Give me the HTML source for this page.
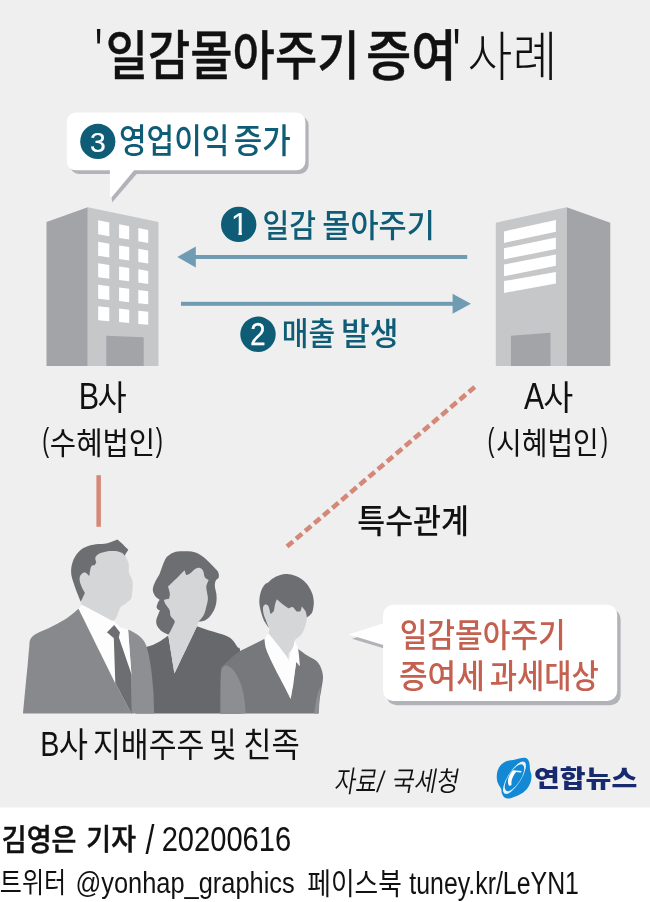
<!DOCTYPE html>
<html lang="ko"><head><meta charset="utf-8"><title>'일감몰아주기 증여' 사례</title>
<style>
html,body{margin:0;padding:0;background:#fff}
svg{display:block;will-change:transform}
text{font-family:"Liberation Sans","Noto Sans CJK KR",sans-serif}
</style></head>
<body>
<svg width="650" height="902" viewBox="0 0 650 902">
<defs><clipPath id="k1"><rect x="225" y="205" width="30" height="26.9"/><rect x="238.4" y="205" width="3.5" height="40"/></clipPath></defs>
<rect x="0" y="0" width="650" height="807.5" fill="#efefef"/>
<g fill="#b1b3b8" transform="translate(3.2 3.4)"><path d="M75.8,112.6 H296.4 a9,9 0 0 1 9,9 V161.5 a9,9 0 0 1 -9,9 H75.8 a9,9 0 0 1 -9,-9 V121.6 a9,9 0 0 1 9,-9 Z"/></g><polygon fill="#b1b3b8" points="111.6,196.8 112.1,202.6 136.6,174 133.7,170"/>
<g fill="#fff"><path d="M75.8,112.6 H296.4 a9,9 0 0 1 9,9 V161.3 a9,9 0 0 1 -9,9 H75.8 a9,9 0 0 1 -9,-9 V121.6 a9,9 0 0 1 9,-9 Z"/><polygon points="109.9,165 109.9,196.2 111.5,197.4 133.9,170.5 133.9,165"/></g>
<g fill="#b1b3b8" transform="translate(3.4 4.3)"><path d="M393.1,604.8 H607.2 a10,10 0 0 1 10,10 V691 a10,10 0 0 1 -10,10 H393.1 a10,10 0 0 1 -10,-10 V614.8 a10,10 0 0 1 10,-10 Z"/><polygon points="348.6,634.4 385,622.8 385,645.5"/></g>
<g fill="#fff"><path d="M393.1,604.8 H607.2 a10,10 0 0 1 10,10 V691 a10,10 0 0 1 -10,10 H393.1 a10,10 0 0 1 -10,-10 V614.8 a10,10 0 0 1 10,-10 Z"/><polygon points="348.6,634.4 385,622.8 385,645.5"/></g>
<polygon points="46.5,222 87.8,207.2 87.8,366 46.5,366" fill="#a3a4a8"/>
<polygon points="87.8,207.2 158.5,222 158.5,366 87.8,366" fill="#c6c7c9"/>
<polygon points="106.3,335.7 143.7,337.2 143.7,366 106.3,366" fill="#a3a4a8"/>
<polygon points="98.2,220.3 109.3,222.4 109.3,236.2 98.2,234.3" fill="#fff"/>
<polygon points="119.1,224.3 129.2,226.3 129.2,239.6 119.1,237.9" fill="#fff"/>
<polygon points="138.3,228.0 148.2,229.9 148.2,242.9 138.3,241.2" fill="#fff"/>
<polygon points="98.2,241.8 109.3,243.7 109.3,257.5 98.2,255.8" fill="#fff"/>
<polygon points="119.1,245.4 129.2,247.1 129.2,260.5 119.1,259.0" fill="#fff"/>
<polygon points="138.3,248.7 148.2,250.4 148.2,263.4 138.3,261.9" fill="#fff"/>
<polygon points="98.2,263.2 109.3,264.9 109.3,278.7 98.2,277.2" fill="#fff"/>
<polygon points="119.1,266.4 129.2,268.0 129.2,281.3 119.1,280.0" fill="#fff"/>
<polygon points="138.3,269.3 148.2,270.9 148.2,283.9 138.3,282.5" fill="#fff"/>
<polygon points="98.2,284.7 109.3,286.2 109.3,300.0 98.2,298.7" fill="#fff"/>
<polygon points="119.1,287.5 129.2,288.8 129.2,302.2 119.1,301.1" fill="#fff"/>
<polygon points="138.3,290.0 148.2,291.3 148.2,304.3 138.3,303.2" fill="#fff"/>
<polygon points="98.2,306.2 109.3,307.4 109.3,321.2 98.2,320.2" fill="#fff"/>
<polygon points="119.1,308.5 129.2,309.7 129.2,323.1 119.1,322.1" fill="#fff"/>
<polygon points="138.3,310.7 148.2,311.8 148.2,324.8 138.3,323.9" fill="#fff"/>
<polygon points="495.8,222.7 566.7,207.2 566.7,366 495.8,366" fill="#c6c7c9"/>
<polygon points="566.7,207.2 610.3,222.7 610.3,366 566.7,366" fill="#a3a4a8"/>
<polygon points="510.9,335.7 550.5,332.8 550.5,366 510.9,366" fill="#a3a4a8"/>
<polygon points="504,231.4 555.9,220 555.9,231.8 504,242.9" fill="#fff"/>
<polygon points="504,248.3 555.9,237.5 555.9,249.1 504,259.4" fill="#fff"/>
<polygon points="504,264.6 555.9,254.5 555.9,265.8 504,276.2" fill="#fff"/>
<polygon points="504,281.1 555.9,272 555.9,283.5 504,292.9" fill="#fff"/>
<rect x="190" y="255" width="277.2" height="4" fill="#6f9bb3"/>
<polygon points="177.3,257 195.8,246.5 195.8,267.5" fill="#6f9bb3"/>
<rect x="181" y="301.8" width="277" height="4" fill="#6f9bb3"/>
<polygon points="470.9,303.8 452.6,293.8 452.6,313.8" fill="#6f9bb3"/>
<circle cx="238.7" cy="224.4" r="17.7" fill="#0e5c75"/>
<circle cx="258" cy="334.3" r="17.7" fill="#0e5c75"/>
<circle cx="97.8" cy="141.4" r="17.6" fill="#0e5c75"/>
<rect x="96.4" y="475.2" width="4.5" height="51.6" fill="#d68878"/>
<line x1="474.8" y1="386.9" x2="287" y2="546.5" stroke="#d68878" stroke-width="4.6" stroke-dasharray="7.9 4.03"/>
<path fill="#67686c" d="M135.7,713.6C135.7,713.6 135.7,648.7 135.7,648.7C135.7,648.7 142.4,647.7 145.0,647.1C147.6,646.6 148.6,646.6 151.2,645.6C153.8,644.6 157.7,642.6 160.5,640.9C163.4,639.2 168.3,635.5 168.3,635.5C168.3,635.5 174.5,673.5 174.5,673.5C174.5,673.5 197.0,626.2 197.0,626.2C197.0,626.2 205.7,629.4 210.2,630.8C214.7,632.3 220.6,633.6 224.2,635.0C227.8,636.5 229.8,637.4 232.0,639.4C234.2,641.4 236.0,644.6 237.4,647.1C238.8,649.7 239.8,643.8 240.5,654.9C241.1,666.0 241.3,713.6 241.3,713.6C241.3,713.6 135.7,713.6 135.7,713.6Z"/>
<path fill="#6d6e72" d="M168.3,634.7C168.3,634.7 163.9,633.0 162.1,631.6C160.3,630.2 158.4,628.0 157.4,626.2C156.4,624.4 156.1,622.7 156.2,620.7C156.3,618.8 157.6,616.2 158.2,614.5C158.8,612.9 159.8,610.7 159.8,610.7C159.8,610.7 156.9,609.0 156.6,607.5C156.4,606.1 157.7,603.4 158.2,602.1C158.7,600.8 159.8,599.8 159.8,599.8C159.8,599.8 156.3,597.6 155.1,595.9C153.9,594.2 152.8,592.0 152.8,589.7C152.8,587.4 153.9,584.6 155.1,581.9C156.3,579.2 158.5,576.2 159.8,573.4C161.0,570.5 161.7,567.6 162.9,564.8C164.0,562.1 164.9,559.2 166.7,557.1C168.6,555.0 171.1,553.4 173.7,552.4C176.3,551.4 179.3,551.3 182.3,551.2C185.2,551.1 188.7,551.1 191.6,551.6C194.4,552.2 196.8,552.9 199.3,554.3C201.9,555.7 204.8,558.2 207.1,560.2C209.4,562.2 211.5,564.5 213.3,566.4C215.1,568.3 217.1,570.0 218.0,571.8C218.9,573.6 219.1,575.8 218.8,577.3C218.4,578.7 216.3,579.1 215.7,580.7C215.0,582.2 214.7,584.3 214.9,586.6C215.0,588.9 216.2,591.8 216.4,594.3C216.7,596.9 216.8,599.5 216.4,602.1C216.0,604.7 215.3,607.4 214.1,609.9C212.9,612.3 211.1,615.1 209.4,616.9C207.8,618.7 205.8,620.0 204.0,620.7C202.2,621.5 198.6,621.5 198.6,621.5C198.6,621.5 191.6,627.0 191.6,627.0C191.6,627.0 176.1,627.0 176.1,627.0C176.1,627.0 168.3,634.7 168.3,634.7Z"/>
<path fill="#d5d6d8" d="M184.6,570.3C184.6,570.3 186.1,574.9 186.1,574.9C186.1,574.9 188.5,574.4 190.0,573.4C191.6,572.3 193.8,569.6 195.5,568.7C197.1,567.8 198.8,567.6 200.1,568.0C201.4,568.3 202.5,569.5 203.2,571.1C204.0,572.6 203.9,575.8 204.8,577.3C205.7,578.8 208.7,580.1 208.7,580.1C208.7,580.1 206.6,584.5 206.3,586.6C206.1,588.7 206.9,590.7 207.1,592.8C207.4,594.9 208.0,596.7 207.9,599.0C207.8,601.3 207.0,604.2 206.3,606.8C205.7,609.4 205.0,612.3 204.0,614.5C203.0,616.7 201.0,618.8 200.1,620.0C199.2,621.1 199.1,620.5 198.6,621.5C198.1,622.6 197.0,626.2 197.0,626.2C197.0,626.2 174.5,673.5 174.5,673.5C174.5,673.5 168.3,635.5 168.3,635.5C168.3,635.5 172.7,627.1 173.7,624.6C174.8,622.2 175.0,622.2 174.5,620.7C174.0,619.3 171.4,617.9 170.6,616.1C169.8,614.3 170.4,611.9 169.5,609.9C168.6,607.8 166.1,605.3 165.2,603.7C164.3,602.0 163.9,599.8 163.9,599.8C163.9,599.8 169.1,598.7 169.1,598.7C169.1,598.7 170.0,595.6 169.8,593.6C169.7,591.6 168.0,586.6 168.0,586.6C168.0,586.6 171.9,583.0 173.7,581.1C175.6,579.3 177.3,577.5 179.2,575.7C181.0,573.9 184.6,570.3 184.6,570.3Z"/>
<path fill="#8e8f93" d="M128.1,629.5C128.1,629.5 134.6,632.6 137.3,634.6C140.0,636.6 142.5,638.8 144.2,641.5C146.0,644.2 146.5,646.2 147.7,650.8C148.9,655.4 150.2,662.3 151.2,669.2C152.1,676.2 153.5,692.3 153.5,692.3C153.5,692.3 154.2,713.6 154.2,713.6C154.2,713.6 131.5,713.6 131.5,713.6C131.5,713.6 131.5,673.9 131.5,673.9C131.5,673.9 128.1,629.5 128.1,629.5Z"/>
<path fill="#fdfdfd" d="M78.5,608.8C78.5,608.8 81.9,605.1 81.9,605.1C81.9,605.1 114.2,621.2 114.2,621.2C114.2,621.2 120.0,627.2 120.0,627.2C120.0,627.2 128.1,629.5 128.1,629.5C128.1,629.5 131.5,673.9 131.5,673.9C131.5,673.9 123.5,692.3 123.5,692.3C123.5,692.3 115.4,683.1 115.4,683.1C115.4,683.1 78.5,608.8 78.5,608.8Z"/>
<path fill="#88898d" d="M23.1,713.6C23.1,713.6 24.6,695.9 25.4,687.7C26.2,679.5 27.0,671.5 27.7,664.6C28.3,657.7 28.9,650.3 29.3,646.2C29.7,642.0 29.5,641.5 30.2,639.7C31.0,637.9 32.2,636.7 33.9,635.3C35.7,634.0 37.8,633.1 40.8,631.6C43.8,630.2 48.2,628.4 51.9,626.5C55.7,624.7 60.0,622.4 63.5,620.3C66.9,618.2 70.2,615.8 72.7,613.8C75.2,611.9 78.5,608.8 78.5,608.8C78.5,608.8 115.4,683.1 115.4,683.1C115.4,683.1 131.5,713.6 131.5,713.6C131.5,713.6 23.1,713.6 23.1,713.6Z"/>
<path fill="#6d6e72" d="M106.9,632.3C106.9,632.3 114.2,624.9 114.2,624.9C114.2,624.9 120.0,632.3 120.0,632.3C120.0,632.3 118.9,637.4 118.9,637.4C118.9,637.4 131.5,673.9 131.5,673.9C131.5,673.9 132.0,713.6 132.0,713.6C132.0,713.6 131.5,713.6 131.5,713.6C131.5,713.6 115.4,683.1 115.4,683.1C115.4,683.1 113.8,638.1 113.8,638.1C113.8,638.1 106.9,632.3 106.9,632.3Z"/>
<path fill="#d5d6d8" d="M80.8,604.0C80.8,604.0 82.2,598.9 82.8,597.1C83.5,595.2 84.9,592.9 84.9,592.9C84.9,592.9 81.6,587.2 80.8,584.6C79.9,582.1 79.4,579.5 79.7,577.7C79.9,575.8 81.2,574.3 82.2,573.5C83.1,572.7 84.4,572.4 85.6,572.8C86.8,573.3 89.4,576.3 89.4,576.3C89.4,576.3 89.8,564.3 91.8,559.7C93.9,555.1 97.2,550.7 101.5,548.6C105.9,546.5 114.2,546.1 118.2,547.2C122.1,548.4 123.7,553.7 125.1,555.5C126.5,557.4 125.8,556.8 126.5,558.3C127.1,559.8 128.4,562.2 128.8,564.5C129.2,566.8 128.4,570.0 128.8,572.2C129.2,574.3 130.7,575.8 131.3,577.7C132.0,579.5 132.5,580.9 132.7,583.2C132.9,585.5 132.5,589.0 132.3,591.5C132.0,594.1 131.9,596.8 131.3,598.5C130.7,600.1 129.6,600.3 128.5,601.2C127.5,602.2 126.3,603.1 125.1,604.0C123.8,604.9 122.0,605.6 120.9,606.8C119.9,607.9 119.5,609.3 118.8,610.9C118.2,612.5 117.5,615.0 116.8,616.5C116.1,618.0 115.5,619.2 114.7,619.9C113.9,620.6 111.9,620.6 111.9,620.6C111.9,620.6 80.8,604.0 80.8,604.0Z"/>
<path fill="#6d6e72" d="M80.8,601.9C80.8,601.9 77.9,594.9 76.6,591.5C75.3,588.2 74.1,585.1 73.2,581.8C72.2,578.6 71.2,575.4 71.1,572.2C71.0,568.9 71.5,565.5 72.5,562.5C73.4,559.5 74.8,556.6 76.6,554.2C78.5,551.7 80.8,549.5 83.5,547.9C86.3,546.4 89.8,545.4 93.2,544.7C96.7,544.0 101.3,544.2 104.3,543.8C107.3,543.3 109.0,542.7 111.2,542.0C113.4,541.3 117.5,539.6 117.5,539.6C117.5,539.6 121.9,543.5 123.7,545.2C125.5,546.8 128.3,549.7 128.3,549.7C128.3,549.7 124.4,555.8 124.4,555.8C124.4,555.8 124.0,554.2 123.0,553.5C122.0,552.7 120.3,551.8 118.2,551.4C116.0,551.0 112.6,550.9 109.8,551.1C107.1,551.3 103.7,552.0 101.5,552.8C99.3,553.5 97.7,554.6 96.7,555.5C95.7,556.5 95.4,557.2 95.3,558.3C95.2,559.5 96.3,562.5 96.3,562.5C96.3,562.5 94.6,565.2 94.6,565.2C94.6,565.2 92.3,565.1 91.6,565.9C90.8,566.7 90.6,568.3 90.2,570.1C89.8,571.8 89.4,576.3 89.4,576.3C89.4,576.3 86.8,573.3 85.6,572.8C84.4,572.4 83.1,572.7 82.2,573.5C81.2,574.3 79.9,575.8 79.7,577.7C79.4,579.5 79.9,582.1 80.8,584.6C81.6,587.2 84.9,592.9 84.9,592.9C84.9,592.9 80.8,601.9 80.8,601.9Z"/>
<path fill="#77787c" d="M220.5,713.6C220.5,713.6 220.4,680.1 220.9,672.1C221.4,664.1 221.8,667.8 223.3,665.6C224.8,663.5 227.2,661.5 229.8,659.2C232.4,656.8 235.3,654.1 239.0,651.8C242.7,649.5 247.7,647.5 251.9,645.3C256.2,643.2 264.5,638.8 264.5,638.8C264.5,638.8 290.7,698.8 290.7,698.8C290.7,698.8 298.1,649.0 298.1,649.0C298.1,649.0 304.2,653.5 307.3,655.5C310.4,657.5 314.2,658.8 316.5,661.0C318.8,663.2 320.1,665.6 321.2,668.4C322.2,671.2 323.0,673.9 323.0,677.6C323.0,681.3 321.8,686.5 321.2,690.5C320.5,694.5 319.8,697.8 319.3,701.6C318.8,705.5 318.4,713.6 318.4,713.6C318.4,713.6 220.5,713.6 220.5,713.6Z"/>
<path fill="#8d8e92" d="M220.5,713.6C220.5,713.6 220.4,681.7 220.9,673.9C221.4,666.1 222.3,668.3 223.3,666.9C224.3,665.5 225.3,665.1 227.0,665.6C228.7,666.2 231.5,667.9 233.5,670.2C235.5,672.5 237.5,676.1 239.0,679.5C240.5,682.8 241.7,686.5 242.7,690.5C243.7,694.5 244.4,699.6 244.9,703.5C245.4,707.3 245.5,713.6 245.5,713.6C245.5,713.6 220.5,713.6 220.5,713.6Z"/>
<path fill="#8d8e92" d="M320.9,686.5C320.9,686.5 319.9,693.3 319.6,697.8C319.3,702.3 318.9,713.6 318.9,713.6C318.9,713.6 314.2,713.6 314.2,713.6C314.2,713.6 315.3,705.1 316.0,701.5C316.7,697.9 317.6,694.5 318.4,692.0C319.2,689.5 320.9,686.5 320.9,686.5Z"/>
<path fill="#fdfdfd" d="M264.5,638.8C264.5,638.8 268.5,632.9 268.5,632.9C268.5,632.9 282.8,650.6 286.1,655.5C289.4,660.3 288.5,661.9 288.5,661.9C288.5,661.9 289.7,657.1 290.7,653.6C291.7,650.1 294.4,641.1 294.4,641.1C294.4,641.1 297.2,644.8 298.1,649.0C299.0,653.2 299.9,666.2 299.9,666.2C299.9,666.2 296.2,661.9 296.2,661.9C296.2,661.9 294.4,677.0 293.5,683.2C292.5,689.3 290.7,698.8 290.7,698.8C290.7,698.8 283.0,684.2 279.6,677.6C276.2,671.0 272.7,664.1 270.4,659.2C268.1,654.2 266.8,651.5 265.8,648.1C264.8,644.7 264.5,638.8 264.5,638.8Z"/>
<path fill="#d5d6d8" d="M276.8,599.2C276.8,599.2 307.3,607.5 307.3,607.5C307.3,607.5 307.2,614.8 306.9,617.6C306.7,620.4 306.4,621.9 305.8,624.1C305.3,626.2 304.6,628.5 303.6,630.5C302.6,632.5 301.2,634.7 299.9,636.1C298.7,637.5 297.2,638.1 296.2,638.8C295.3,639.6 294.4,640.7 294.4,640.7C294.4,640.7 294.1,644.5 293.5,646.2C292.8,647.9 291.5,649.6 290.7,650.8C289.9,652.1 289.2,651.9 288.8,653.6C288.5,655.4 288.5,661.4 288.5,661.4C288.5,661.4 289.4,660.1 286.1,655.5C282.8,650.8 268.5,633.3 268.5,633.3C268.5,633.3 269.4,629.6 269.5,628.7C269.5,627.8 269.5,629.2 268.9,627.8C268.3,626.4 266.8,622.8 266.0,620.4C265.1,618.0 264.0,615.6 263.6,613.4C263.1,611.2 262.8,608.6 263.2,607.1C263.5,605.6 264.7,604.6 265.6,604.5C266.5,604.4 267.7,605.0 268.5,606.5C269.3,608.1 270.4,613.9 270.4,613.9C270.4,613.9 272.9,612.7 273.7,611.2C274.5,609.6 274.5,606.7 275.0,604.7C275.5,602.7 276.8,599.2 276.8,599.2Z"/>
<path fill="#6d6e72" d="M268.9,627.8C268.9,627.8 265.3,623.2 263.9,620.4C262.6,617.6 261.6,614.4 260.8,611.2C260.0,607.9 259.2,604.4 259.3,601.0C259.4,597.6 260.2,593.6 261.2,590.8C262.1,588.1 263.6,585.8 264.8,584.4C266.1,583.0 268.5,582.5 268.5,582.5C268.5,582.5 270.4,580.1 272.2,578.8C274.1,577.6 276.8,575.9 279.6,575.2C282.4,574.4 285.8,573.9 288.8,574.2C291.9,574.5 295.2,575.5 298.1,577.0C301.0,578.5 304.1,580.8 306.4,583.5C308.7,586.1 310.7,589.6 311.9,592.7C313.2,595.8 313.6,599.0 313.8,601.9C313.9,604.8 313.3,608.2 312.8,610.2C312.4,612.2 312.0,612.7 311.0,613.9C310.0,615.2 306.9,617.6 306.9,617.6C306.9,617.6 306.3,613.0 305.5,611.2C304.6,609.3 301.8,606.5 301.8,606.5C301.8,606.5 301.2,610.4 300.3,611.2C299.4,611.9 296.2,611.2 296.2,611.2C296.2,611.2 293.8,607.6 292.5,607.1C291.3,606.6 288.8,608.4 288.8,608.4C288.8,608.4 285.3,606.2 283.3,604.7C281.3,603.2 276.8,599.2 276.8,599.2C276.8,599.2 275.5,602.7 275.0,604.7C274.5,606.7 274.5,609.6 273.7,611.2C272.9,612.7 270.4,613.9 270.4,613.9C270.4,613.9 269.3,608.1 268.5,606.5C267.7,605.0 266.5,604.4 265.6,604.5C264.7,604.6 263.5,605.6 263.2,607.1C262.8,608.6 263.1,611.2 263.6,613.4C264.0,615.6 265.1,618.0 266.0,620.4C266.8,622.8 268.9,627.8 268.9,627.8Z"/>
<path d="M513.1,760.1C515.3,759.6 517.3,758.9 519.2,758.5C521.2,758.2 523.1,757.6 524.6,757.8C526.1,758.0 527.2,758.6 528.1,759.7C528.9,760.8 529.3,762.6 529.6,764.3C529.9,766.0 529.7,767.8 530.0,769.7C530.3,771.6 531.5,773.7 531.5,775.8C531.6,778.0 531.2,780.6 530.4,782.8C529.6,784.9 528.4,787.1 526.9,788.9C525.4,790.7 523.5,792.3 521.5,793.5C519.6,794.8 517.4,795.8 515.4,796.6C513.3,797.4 511.0,798.4 509.2,798.5C507.4,798.7 505.8,798.2 504.6,797.4C503.4,796.6 502.5,794.9 501.9,793.5C501.3,792.1 501.8,790.6 501.2,788.9C500.5,787.3 498.8,785.5 498.1,783.5C497.3,781.6 496.8,779.6 496.8,777.4C496.7,775.2 497.0,772.5 497.7,770.5C498.4,768.4 499.4,766.6 500.8,765.1C502.2,763.5 504.1,762.1 506.2,761.2C508.2,760.4 510.9,760.5 513.1,760.1Z" fill="#1389d6"/>
<g transform="translate(490 752) scale(0.076923)">
<g transform="translate(318 335) rotate(-57.6)">
<path fill="#fff" fill-opacity=".9" fill-rule="evenodd" d="M-243,0 a243,86 0 1 0 486,0 a243,86 0 1 0 -486,0 Z M-200,0 a200,80 0 1 0 400,0 a200,80 0 1 0 -400,0 Z"/>
</g>
<path fill="#fff" d="M296,240 C242,300 214,376 246,436 C260,442 272,436 282,422 C268,382 296,312 345,250 Z"/>
<path fill="#fff" d="M296,236 L410,246 L404,266 L292,257 Z"/>
</g>
<text transform="matrix(0.3778 0 0.0000 0.6727 95.01 75.02)" font-size="100" font-weight="500" fill="#111" xml:space="preserve">'</text>
<text transform="matrix(0.4598 0 0.0000 0.5366 105.74 75.37)" font-size="100" font-weight="500" stroke="#111" stroke-width="0.8" stroke-linejoin="round" fill="#111" xml:space="preserve">일감몰아주기</text>
<text transform="matrix(0.4923 0 0.0000 0.5441 366.03 75.30)" font-size="100" font-weight="500" stroke="#111" stroke-width="0.8" stroke-linejoin="round" fill="#111" xml:space="preserve">증여</text>
<text transform="matrix(0.4000 0 0.0000 0.6727 452.80 75.02)" font-size="100" font-weight="500" fill="#111" xml:space="preserve">'</text>
<text transform="matrix(0.4881 0 0.0000 0.5393 467.56 76.22)" font-size="100" font-weight="300" fill="#111" xml:space="preserve">사례</text>
<text transform="matrix(0.3003 0 0.0000 0.3398 119.00 153.14)" font-size="100" font-weight="500" fill="#0e5c75" xml:space="preserve">영업이익</text>
<text transform="matrix(0.3102 0 0.0000 0.3398 233.85 153.14)" font-size="100" font-weight="500" fill="#0e5c75" xml:space="preserve">증가</text>
<text transform="matrix(0.2837 0 0.0000 0.2704 90.05 151.73)" font-size="100" font-weight="400" stroke="#fff" stroke-width="0.8" stroke-linejoin="round" fill="#fff" xml:space="preserve">3</text>
<text transform="matrix(0.2909 0 0.0000 0.3209 262.55 236.75)" font-size="100" font-weight="500" fill="#0e5c75" xml:space="preserve">일감</text>
<text transform="matrix(0.3060 0 0.0000 0.3183 322.27 236.54)" font-size="100" font-weight="500" fill="#0e5c75" xml:space="preserve">몰아주기</text>
<g clip-path="url(#k1)"><text transform="matrix(0.3200 0 0.0000 0.3072 230.75 235.00)" font-size="100" font-weight="400" fill="#fff" xml:space="preserve">1</text></g>
<text transform="matrix(0.2906 0 0.0000 0.3172 281.67 344.85)" font-size="100" font-weight="500" fill="#0e5c75" xml:space="preserve">매출</text>
<text transform="matrix(0.3133 0 0.0000 0.3207 340.99 344.81)" font-size="100" font-weight="500" fill="#0e5c75" xml:space="preserve">발생</text>
<text transform="matrix(0.2745 0 0.0000 0.3071 250.30 345.30)" font-size="100" font-weight="400" stroke="#fff" stroke-width="1.2" stroke-linejoin="round" fill="#fff" xml:space="preserve">2</text>
<text transform="matrix(0.3057 0 0.0000 0.3609 78.75 409.30)" font-size="100" font-weight="300" fill="#111" xml:space="preserve">B</text>
<text transform="matrix(0.3176 0 0.0000 0.3462 97.53 409.93)" font-size="100" font-weight="400" fill="#111" xml:space="preserve">사</text>
<text transform="matrix(0.2077 0 0.0000 0.3319 42.35 450.93)" font-size="100" font-weight="300" fill="#111" xml:space="preserve">(</text>
<text transform="matrix(0.2867 0 0.0000 0.3077 49.77 453.94)" font-size="100" font-weight="400" fill="#111" xml:space="preserve">수혜법인</text>
<text transform="matrix(0.2154 0 0.0000 0.3319 155.78 450.93)" font-size="100" font-weight="300" fill="#111" xml:space="preserve">)</text>
<text transform="matrix(0.3015 0 0.0000 0.3609 524.10 409.30)" font-size="100" font-weight="300" fill="#111" xml:space="preserve">A</text>
<text transform="matrix(0.3259 0 0.0000 0.3462 543.20 409.93)" font-size="100" font-weight="400" fill="#111" xml:space="preserve">사</text>
<text transform="matrix(0.2077 0 0.0000 0.3319 487.55 450.93)" font-size="100" font-weight="300" fill="#111" xml:space="preserve">(</text>
<text transform="matrix(0.2793 0 0.0000 0.3077 496.00 453.94)" font-size="100" font-weight="400" fill="#111" xml:space="preserve">시혜법인</text>
<text transform="matrix(0.2077 0 0.0000 0.3319 600.99 450.93)" font-size="100" font-weight="300" fill="#111" xml:space="preserve">)</text>
<text transform="matrix(0.3040 0 0.0000 0.3269 357.18 532.86)" font-size="100" font-weight="500" fill="#111" xml:space="preserve">특수관계</text>
<text transform="matrix(0.3011 0 0.0000 0.3290 399.69 646.64)" font-size="100" font-weight="500" fill="#c4604f" xml:space="preserve">일감몰아주기</text>
<text transform="matrix(0.3111 0 0.0000 0.3258 398.94 687.87)" font-size="100" font-weight="500" fill="#c4604f" xml:space="preserve">증여세</text>
<text transform="matrix(0.2967 0 0.0000 0.3258 489.71 687.87)" font-size="100" font-weight="500" fill="#c4604f" xml:space="preserve">과세대상</text>
<text transform="matrix(0.2868 0 0.0000 0.3565 40.31 756.30)" font-size="100" font-weight="300" fill="#111" xml:space="preserve">B</text>
<text transform="matrix(0.3176 0 0.0000 0.3385 58.63 756.99)" font-size="100" font-weight="400" fill="#111" xml:space="preserve">사</text>
<text transform="matrix(0.3028 0 0.0000 0.3374 92.99 757.00)" font-size="100" font-weight="400" fill="#111" xml:space="preserve">지배주주</text>
<text transform="matrix(0.3014 0 0.0000 0.3429 208.89 756.96)" font-size="100" font-weight="400" fill="#111" xml:space="preserve">및</text>
<text transform="matrix(0.3070 0 0.0000 0.3374 243.15 757.00)" font-size="100" font-weight="400" fill="#111" xml:space="preserve">친족</text>
<text transform="matrix(0.2288 0 -0.0464 0.2978 333.80 792.12)" font-size="100" font-weight="350" fill="#111" xml:space="preserve">자료/</text>
<text transform="matrix(0.2423 0 -0.0491 0.2744 391.05 791.18)" font-size="100" font-weight="350" fill="#111" xml:space="preserve">국세청</text>
<text transform="matrix(0.2805 0 0.0000 0.2421 534.00 786.78)" font-size="100" font-weight="900" fill="#172a70" xml:space="preserve">연합뉴스</text>
<text transform="matrix(0.2708 0 0.0000 0.2935 1.75 849.86)" font-size="100" font-weight="500" stroke="#111" stroke-width="1.8" stroke-linejoin="round" fill="#111" xml:space="preserve">김영은</text>
<text transform="matrix(0.2695 0 0.0000 0.2904 86.35 849.60)" font-size="100" font-weight="500" stroke="#111" stroke-width="1.8" stroke-linejoin="round" fill="#111" xml:space="preserve">기자</text>
<text transform="matrix(0.3214 0 0.0000 0.4014 145.50 853.50)" font-size="100" font-weight="300" fill="#111" xml:space="preserve">/</text>
<text transform="matrix(0.2913 0 0.0000 0.3465 161.64 850.95)" font-size="100" font-weight="300" fill="#111" xml:space="preserve">20200616</text>
<text transform="matrix(0.2403 0 0.0000 0.2835 -0.20 893.33)" font-size="100" font-weight="400" fill="#111" xml:space="preserve">트위터</text>
<text transform="matrix(0.2541 0 0.0000 0.3011 75.47 893.28)" font-size="100" font-weight="300" fill="#111" xml:space="preserve">@yonhap_graphics</text>
<text transform="matrix(0.2571 0 0.0000 0.2934 307.27 894.15)" font-size="100" font-weight="400" fill="#111" xml:space="preserve">페이스북</text>
<text transform="matrix(0.2489 0 0.0000 0.3085 409.30 893.72)" font-size="100" font-weight="300" fill="#111" xml:space="preserve">tuney.kr/LeYN1</text>
</svg>
</body></html>
